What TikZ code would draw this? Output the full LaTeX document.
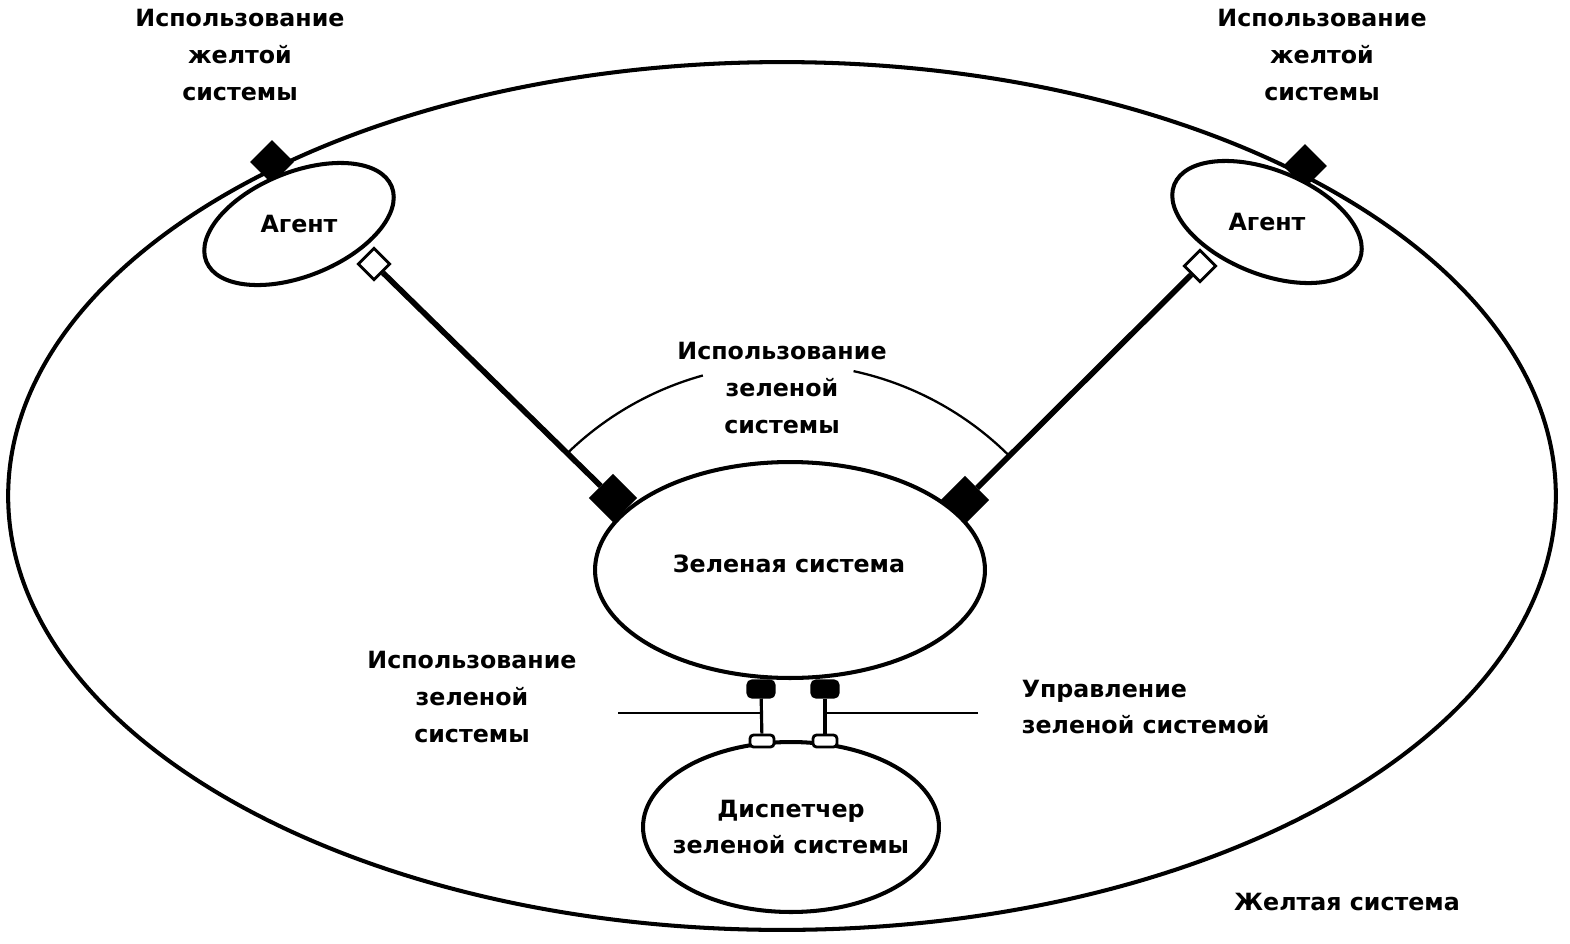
\documentclass[tikz,border=0pt]{standalone}
\usepackage{fontspec}
\setmainfont{DejaVu Sans}
\usepackage{tikz}
\usetikzlibrary{shapes.geometric}

\begin{document}
\begin{tikzpicture}[x=0.02cm,y=-0.02cm,
  every node/.style={font=\bfseries\fontsize{13.5}{21}\selectfont},
  sys/.style={draw,ellipse,line width=2.3pt,fill=white,inner sep=0pt},
  label/.style={align=center,inner sep=1pt},
  portout/.style={draw,fill=black,rectangle,rotate=45,minimum size=#1,inner sep=0pt},
  portin/.style={draw,fill=white,rectangle,rotate=45,line width=1.6pt,minimum size=0.44cm,inner sep=0pt},
  plugout/.style={draw,fill=black,rounded corners=2pt,minimum width=0.5cm,minimum height=0.3cm,inner sep=0pt},
  plugin/.style={draw,fill=white,line width=1.6pt,rounded corners=2pt,minimum width=0.48cm,minimum height=0.24cm,inner sep=0pt},
  link/.style={line width=3.2pt}]
\pgfsetlinewidth{2.3pt}
\useasboundingbox (0,0) rectangle (1570,944);
\node[draw,ellipse,line width=2.3pt,minimum width=30.96cm,minimum height=17.36cm] (yellow) at (782,496) {};
\node[portout=0.54cm] (pyL) at (272,162) {};
\node[portout=0.54cm] (pyR) at (1305,166) {};
\node[sys,rotate=22,minimum width=4cm,minimum height=2.08cm] (agL) at (299,224) {};
\node[sys,rotate=-22,minimum width=4cm,minimum height=2.08cm] (agR) at (1267,222) {};
\node at (agL) {Агент};
\node at (agR) {Агент};
\node[sys,minimum width=7.8cm,minimum height=4.32cm] (green) at (790,570) {};
\node at (789,564) {Зеленая система};
\node[sys,minimum width=5.92cm,minimum height=3.4cm] (disp) at (791,827) {};
\node[label] at (disp) {Диспетчер\\зеленой системы};
\node[portout=0.6cm] (pgL) at (613,498) {};
\node[portout=0.6cm] (pgR) at (965,500) {};
\node[portin] (paL) at (374,264) {};
\node[portin] (paR) at (1200,266) {};
\draw[link] (paL) -- (pgL);
\draw[link] (paR) -- (pgR);
% arc round the green system
\coordinate (c) at (787,679);
\draw[line width=1.3pt] ([shift={(-134:315)}]c) arc (-134:-105.5:315);
\draw[line width=1.3pt] ([shift={(-77.8:315)}]c) arc (-77.8:-45.4:315);
% ports between green system and dispatcher
\node[plugout] (pbL) at (761,689) {};
\node[plugout] (pbR) at (825,689) {};
\node[plugin] (pdL) at (762,741) {};
\node[plugin] (pdR) at (825,741) {};
\draw[line width=1.8pt] (pbL) -- (pdL);
\draw[line width=1.8pt] (pbR) -- (pdR);
\coordinate (hL) at (618,713);
\coordinate (hR) at (978,713);
\draw[line width=1.6pt] (hL) -- (hL -| pbL);
\draw[line width=1.6pt] (hR) -- (hR -| pbR);
% texts
\node[label] (uyL) at (240,55) {Использование\\желтой\\системы};
\node[label] (uyR) at (1322,55) {Использование\\желтой\\системы};
\node[label] (ugT) at (782,388) {Использование\\зеленой\\системы};
\node[label] (ugB) at (472,697) {Использование\\зеленой\\системы};
\node[label,align=left,anchor=west] (ctl) at (1018,707) {Управление\\зеленой системой};
\node[label] (yname) at (1347,902) {Желтая система};
\end{tikzpicture}
\end{document}
